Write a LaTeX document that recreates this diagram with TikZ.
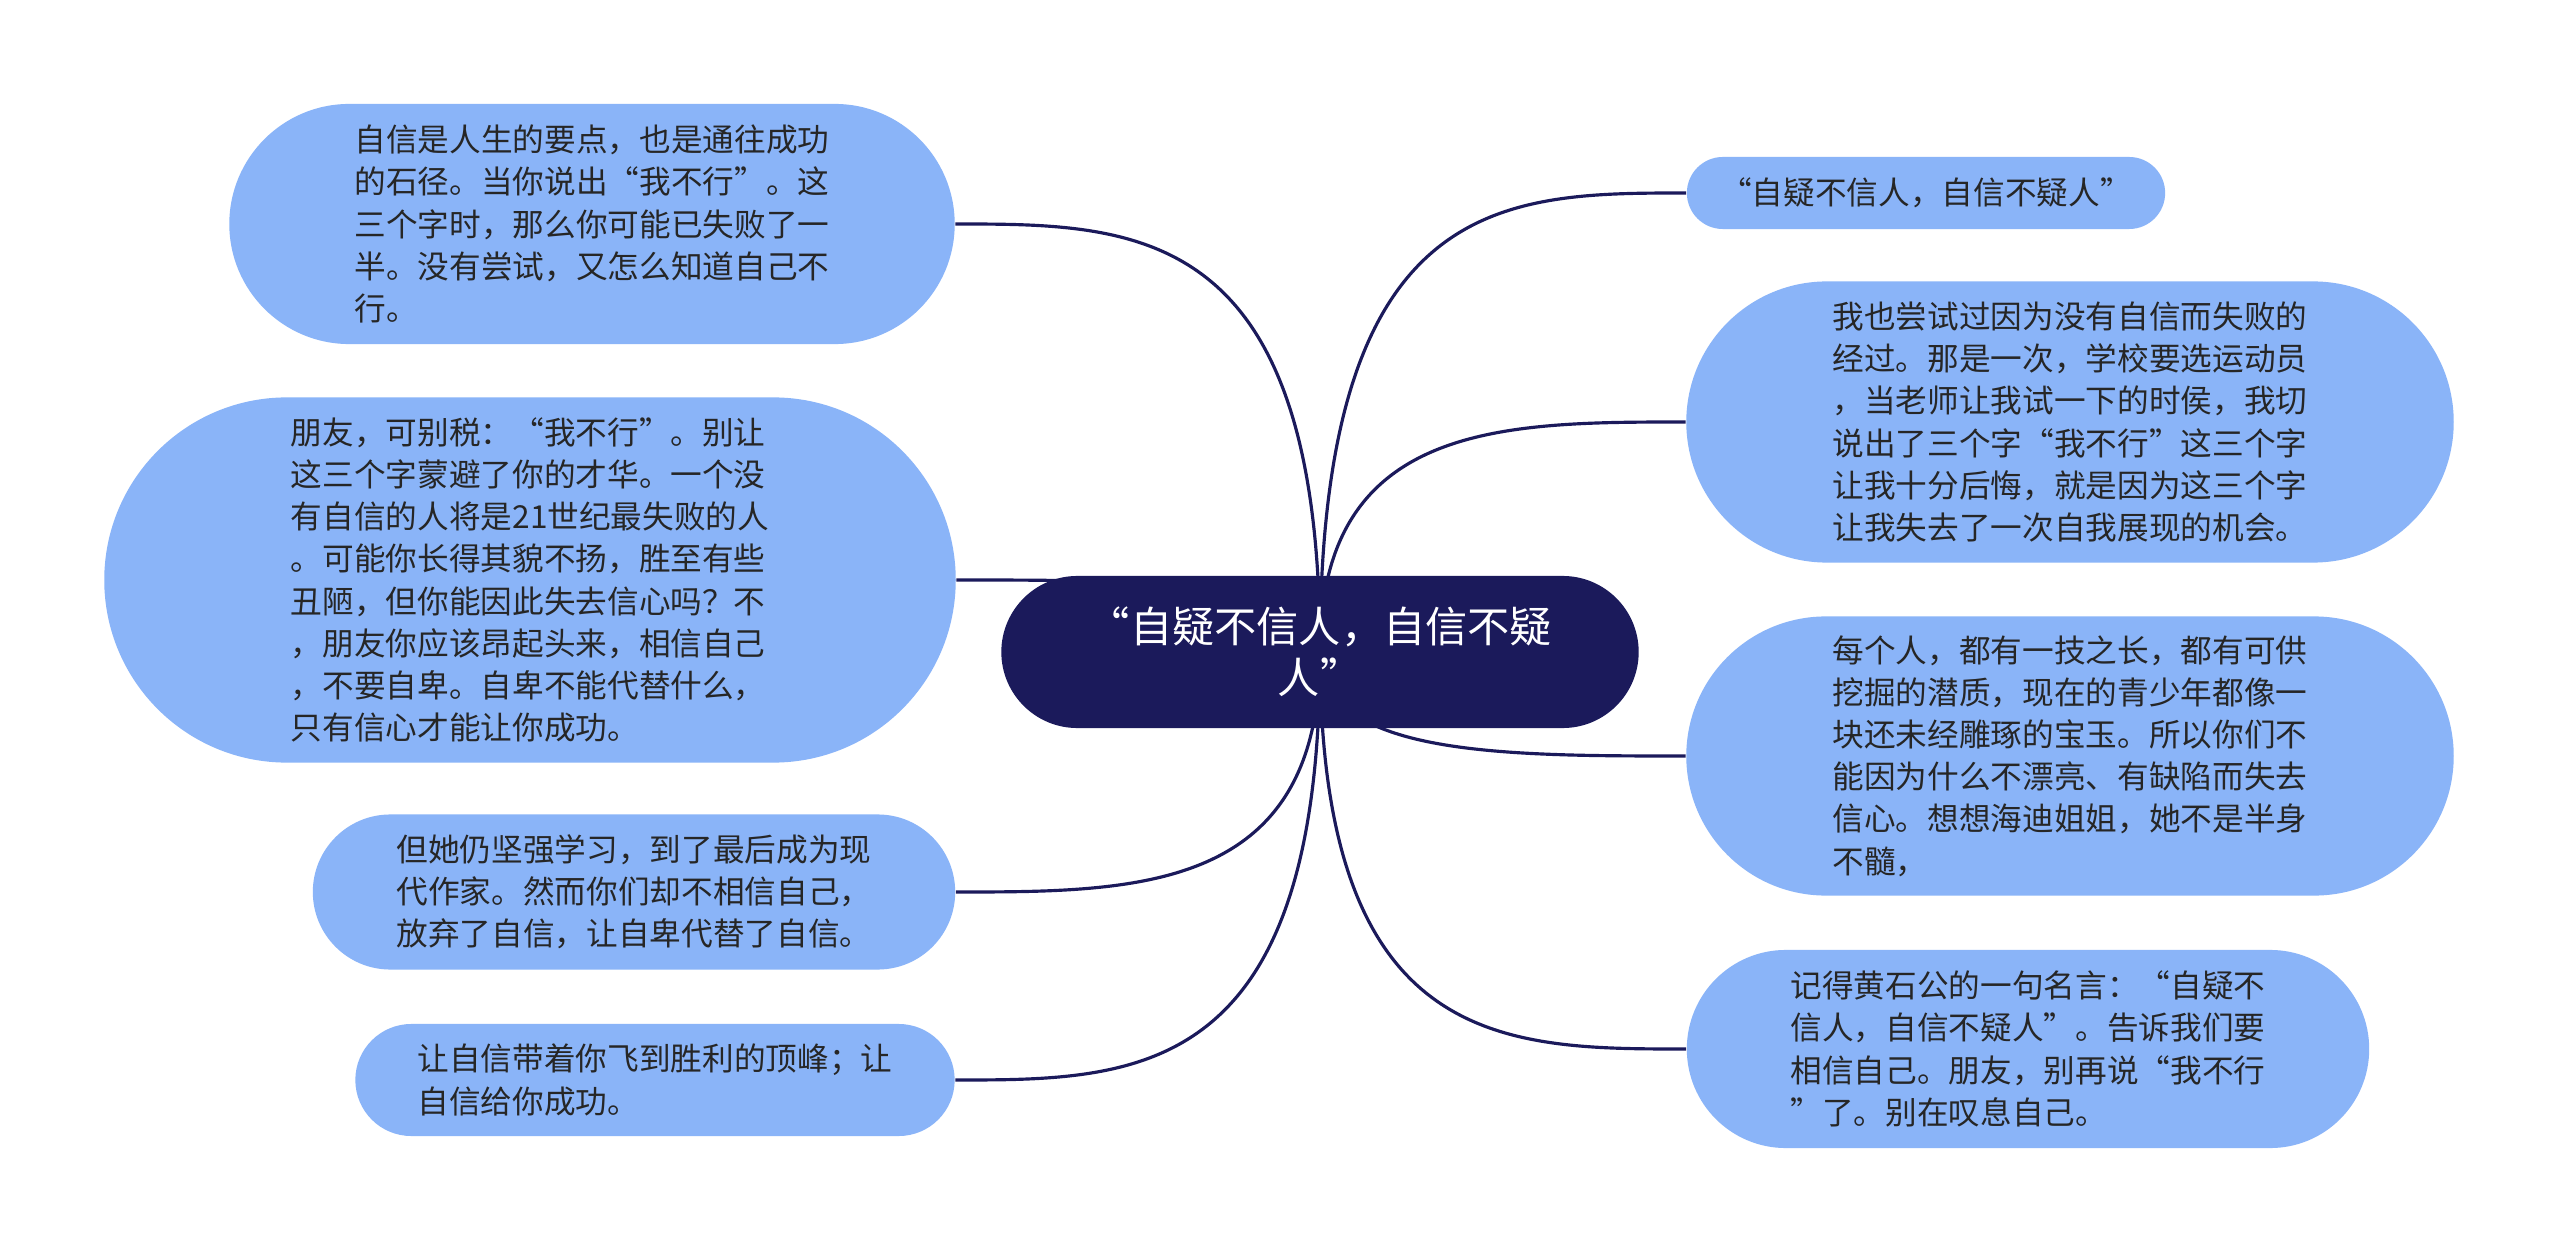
\documentclass[tikz,border=0pt]{standalone}
\usepackage{fontspec}
\newfontfamily\cjkfont{Noto Sans CJK SC}
\usetikzlibrary{shapes.misc,calc,backgrounds}
\definecolor{navy}{HTML}{1B1A5B}
\definecolor{leafblue}{HTML}{8AB4F8}
\definecolor{ink}{HTML}{262626}
\tikzset{
  leaf/.style={rounded rectangle, fill=leafblue, text=ink, align=left, inner sep=0pt,
    font=\cjkfont\fontsize{9pt}{12pt}\selectfont},
  topic/.style={rounded rectangle, fill=navy, text=white, align=center, inner sep=0pt,
    font=\cjkfont\fontsize{12pt}{14.5pt}\selectfont},
  branch/.style={navy, line width=0.9pt},
}

\begin{document}
\begin{tikzpicture}[x=0.01cm,y=-0.01cm]
        \useasboundingbox (0,0) rectangle (2560,1252);
        \node[topic, minimum width=6.37cm, minimum height=1.52cm] (root) at (1320,652)
            {“自疑不信人，自信不疑\\人”};
        % left side
        \node[leaf, minimum width=7.25cm, minimum height=2.4cm] (l1) at (592,224)
            {自信是人生的要点，也是通往成功\\的石径。当你说出“我不行”。这\\三个字时，那么你可能已失败了一\\半。没有尝试，又怎么知道自己不\\行。};
        \node[leaf, minimum width=8.51cm, minimum height=3.65cm] (l2) at (530,580)
            {朋友，可别税：“我不行”。别让\\这三个字蒙避了你的才华。一个没\\有自信的人将是21世纪最失败的人\\。可能你长得其貌不扬，胜至有些\\丑陋，但你能因此失去信心吗？不\\，朋友你应该昂起头来，相信自己\\，不要自卑。自卑不能代替什么，\\只有信心才能让你成功。};
        \node[leaf, minimum width=6.42cm, minimum height=1.55cm] (l3) at (634,892)
            {但她仍坚强学习，到了最后成为现\\代作家。然而你们却不相信自己，\\放弃了自信，让自卑代替了自信。};
        \node[leaf, minimum width=5.99cm, minimum height=1.12cm] (l4) at (655,1080)
            {让自信带着你飞到胜利的顶峰；让\\自信给你成功。};
        % right side
        \node[leaf, minimum width=4.78cm, minimum height=0.72cm] (r1) at (1926,193)
            {“自疑不信人，自信不疑人”};
        \node[leaf, minimum width=7.67cm, minimum height=2.81cm] (r2) at (2070,422)
            {我也尝试过因为没有自信而失败的\\经过。那是一次，学校要选运动员\\，当老师让我试一下的时侯，我切\\说出了三个字“我不行”这三个字\\让我十分后悔，就是因为这三个字\\让我失去了一次自我展现的机会。};
        \node[leaf, minimum width=7.67cm, minimum height=2.79cm] (r3) at (2070,756)
            {每个人，都有一技之长，都有可供\\挖掘的潜质，现在的青少年都像一\\块还未经雕琢的宝玉。所以你们不\\能因为什么不漂亮、有缺陷而失去\\信心。想想海迪姐姐，她不是半身\\不髓，};
        \node[leaf, minimum width=6.82cm, minimum height=1.98cm] (r4) at (2028,1049)
            {记得黄石公的一句名言：“自疑不\\信人，自信不疑人”。告诉我们要\\相信自己。朋友，别再说“我不行\\”了。别在叹息自己。};
        \begin{scope}[on background layer]
            \fill[white] (0,0) rectangle (2560,1252);
            \foreach \c in {l1,l2,l3,l4}{
                \draw[branch] (root.center) .. controls (root.center |- \c.east) and ($(root.center |- \c.east)!0.5!(\c.east)$) .. (\c.east);
            }
            \foreach \c in {r1,r2,r3,r4}{
                \draw[branch] (root.center) .. controls (root.center |- \c.west) and ($(root.center |- \c.west)!0.5!(\c.west)$) .. (\c.west);
            }
        \end{scope}
    \end{tikzpicture}
\end{document}
